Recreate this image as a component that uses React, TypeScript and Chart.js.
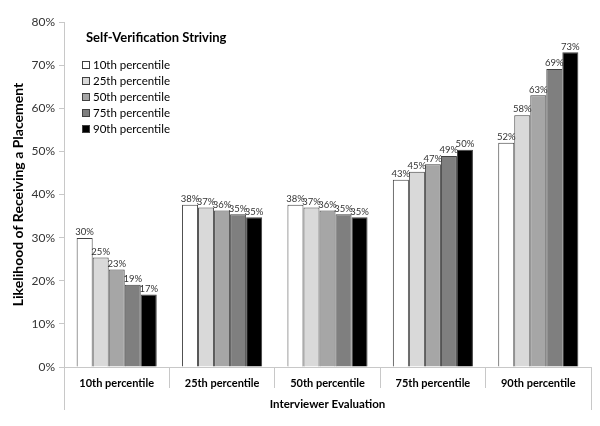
import React from "react"
import { Chart, registerables } from "chart.js"

Chart.register(...registerables)

const categories = ["10th percentile", "25th percentile", "50th percentile", "75th percentile", "90th percentile"]
const seriesNames = ["10th percentile", "25th percentile", "50th percentile", "75th percentile", "90th percentile"]
const p10 = [29.9, 37.6, 37.6, 43.4, 52.0]
const p25 = [25.4, 37.0, 37.0, 45.3, 58.4]
const p50 = [22.6, 36.3, 36.3, 47.0, 63.0]
const p75 = [19.1, 35.4, 35.4, 48.9, 69.1]
const p90 = [16.8, 34.7, 34.7, 50.4, 73.0]
const yMax = 80
const yStep = 10

const colors = ["#ffffff", "#d9d9d9", "#a6a6a6", "#7f7f7f", "#000000"]
const FONT = "Lato, 'Open Sans', sans-serif"

// value labels above each bar
const barLabels = {
  id: "barLabels",
  afterDatasetsDraw(chart: any) {
    const ctx = chart.ctx
    ctx.save()
    ctx.font = `9.5px ${FONT}`
    ctx.fillStyle = "#333"
    ctx.textAlign = "center"
    ctx.textBaseline = "bottom"
    chart.data.datasets.forEach((ds: any, i: number) => {
      const meta = chart.getDatasetMeta(i)
      meta.data.forEach((bar: any, j: number) => {
        ctx.fillText(Math.round(ds.data[j]) + "%", bar.x, bar.y - 1)
      })
    })
    ctx.restore()
  },
}

// legend inside the plot, top-left
const insideLegend = {
  id: "insideLegend",
  afterDraw(chart: any) {
    const ctx = chart.ctx
    const left = chart.chartArea.left
    ctx.save()
    ctx.fillStyle = "#000"
    ctx.textBaseline = "middle"
    ctx.font = `bold 13px ${FONT}`
    ctx.fillText("Self-Verification Striving", left + 22, 38)
    ctx.font = `11.5px ${FONT}`
    chart.data.datasets.forEach((ds: any, i: number) => {
      const y = 65 + i * 16
      ctx.fillStyle = ds.backgroundColor
      ctx.fillRect(left + 18, y - 4, 8, 8)
      ctx.strokeStyle = "#404040"
      ctx.lineWidth = 1
      ctx.strokeRect(left + 18.5, y - 3.5, 7, 7)
      ctx.fillStyle = "#000"
      ctx.fillText(ds.label, left + 29, y)
    })
    ctx.restore()
  },
}

// left and right frame lines around the category axis area
const axisFrame = {
  id: "axisFrame",
  afterDraw(chart: any) {
    const ctx = chart.ctx
    const { left, right, bottom } = chart.chartArea
    ctx.save()
    ctx.strokeStyle = "#c8c8c8"
    ctx.lineWidth = 1
    ctx.beginPath()
    ctx.moveTo(Math.round(left) + 0.5, bottom)
    ctx.lineTo(Math.round(left) + 0.5, bottom + 43)
    ctx.moveTo(Math.round(right) + 0.5, bottom)
    ctx.lineTo(Math.round(right) + 0.5, bottom + 43)
    ctx.stroke()
    ctx.restore()
  },
}

const BarChart = () => {
  const chartRef = React.useRef<HTMLCanvasElement>(null)

  React.useEffect(() => {
    if (chartRef.current == null) {
      return
    }

    const series = [p10, p25, p50, p75, p90]

    const chart = new Chart(chartRef.current, {
      type: "bar",
      data: {
        labels: categories,
        datasets: series.map((data, i) => ({
          label: seriesNames[i],
          data: data,
          backgroundColor: colors[i],
          borderColor: "#404040",
          borderWidth: 1,
          categoryPercentage: 0.76,
          barPercentage: 1,
        })),
      },
      options: {
        animation: false,
        responsive: false,
        layout: { padding: { top: 22, right: 9, left: 10, bottom: 12 } },
        plugins: {
          legend: { display: false },
          tooltip: { enabled: false },
        },
        scales: {
          x: {
            grid: {
              offset: true,
              drawOnChartArea: false,
              drawTicks: true,
              tickLength: 21,
              color: "#c8c8c8",
            },
            border: { color: "#c8c8c8" },
            ticks: {
              font: { family: FONT, size: 11, weight: "bold" },
              color: "#000",
              padding: -11,
            },
            title: {
              display: true,
              text: "Interviewer Evaluation",
              font: { family: FONT, size: 11.5, weight: "bold" },
              color: "#000",
              padding: { top: 0, bottom: 3 },
            },
            afterFit: (scale: any) => {
              scale.height = 47
            },
          },
          y: {
            min: 0,
            max: yMax,
            ticks: {
              stepSize: yStep,
              callback: (v: any) => v + "%",
              font: { family: FONT, size: 12 },
              color: "#333",
              padding: 4,
            },
            grid: {
              drawOnChartArea: false,
              tickLength: 5,
              color: "#c8c8c8",
            },
            border: { color: "#c8c8c8" },
            title: {
              display: true,
              text: "Likelihood of Receiving a Placement",
              font: { family: FONT, size: 14, weight: "bold" },
              color: "#000",
              padding: 0,
            },
            afterFit: (scale: any) => {
              scale.width = 54
            },
          },
        },
      },
      plugins: [barLabels, insideLegend, axisFrame],
    })

    return () => {
      chart.destroy()
    }
  }, [])

  return <canvas ref={chartRef} width={600} height={426} />
}

export default function App() {
  return (
    <div style={{ position: "absolute", left: 0, top: 0, width: 600, height: 426, background: "#fff" }}>
      <BarChart />
    </div>
  )
}
